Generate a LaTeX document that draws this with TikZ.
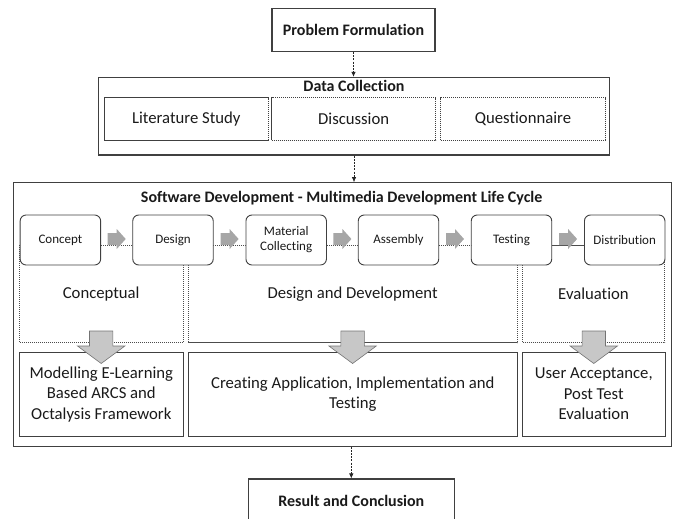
\documentclass[tikz,border=0pt]{standalone}
\usepackage{fontspec}
\setmainfont{Carlito}[Ligatures=NoCommon]
\usetikzlibrary{arrows.meta}
\definecolor{framegray}{HTML}{404040}
\definecolor{inkgray}{HTML}{1A1A1A}
\begin{document}
\begin{tikzpicture}[x=1pt,y=-1pt,
  every node/.style={text=inkgray,inner sep=0pt},
  headbox/.style={draw=framegray,line width=1.1pt,fill=white,font=\fontsize{16}{19}\selectfont\bfseries},
  frame/.style={draw=framegray,line width=1.1pt},
  title/.style={font=\fontsize{16}{19}\selectfont\bfseries},
  subbox/.style={draw=black!75,line width=0.8pt,dash pattern=on 1.2pt off 0.8pt,minimum height=42.3pt,font=\fontsize{16.7}{20.5}\selectfont},
  stage/.style={draw=framegray,line width=0.9pt,rounded corners=6pt,fill=white,minimum width=80.5pt,minimum height=50pt,align=center,font=\fontsize{13}{15}\selectfont},
  region/.style={draw=black!70,line width=0.8pt,dash pattern=on 1.2pt off 0.8pt},
  phase/.style={font=\fontsize{16.7}{20.5}\selectfont},
  outcome/.style={draw=framegray,line width=0.9pt,minimum height=83.7pt,align=center,font=\fontsize{16.7}{20.5}\selectfont},
  link/.style={draw=black!85,line width=0.7pt,dash pattern=on 2pt off 1.2pt,-{Latex[length=5pt,width=4.5pt]}},
  stepgo/.pic={\fill[black!35] (-9,-6) -- (0,-6) -- (0,-10) -- (9,0) -- (0,10) -- (0,6) -- (-9,6) -- cycle;},
  dropdown/.pic={\filldraw[fill=black!22,draw=black!55,line width=0.6pt] (-11.7,0) -- (11.7,0) -- (11.7,15) -- (23.7,15) -- (0,32.5) -- (-23.7,15) -- (-11.7,15) -- cycle;}]
\useasboundingbox (0,0) rectangle (673,519);
\node[headbox,minimum width=163pt,minimum height=43pt] (problem) at (353.5,30) {Problem Formulation};
\node[frame,minimum width=511pt,minimum height=77.7pt] (data) at (354,116.2) {};
\node[title] (datatitle) at (354,86) {Data Collection};
\node[subbox,minimum width=164pt] (literature) at (186.3,118.9) {Literature Study};
\node[subbox,minimum width=164pt] (discussion) at (353.7,118.9) {Discussion};
\node[subbox,minimum width=164.4pt] (questionnaire) at (523,118.9) {Questionnaire};
\node[frame,minimum width=657.7pt,minimum height=263.3pt] (sdlc) at (342.2,314.4) {};
\node[title] (sdlctitle) at (341.7,198) {Software Development - Multimedia Development Life Cycle};
\draw[region] (19.5,245) rectangle (183,342.7);
\draw[region] (188,245) rectangle (517.3,342.7);
\draw[region] (522.3,245) rectangle (664.7,342.7);
\node[stage] (concept) at (60.4,240) {Concept};
\node[stage] (design) at (173,240) {Design};
\node[stage] (material) at (286.2,240) {Material\\Collecting};
\node[stage] (assembly) at (398.5,240) {Assembly};
\node[stage] (testing) at (511.5,240) {Testing};
\node[stage] (distribution) at (624.7,240) {Distribution};
\pic at (116.7,239) {stepgo};
\pic at (229.6,239) {stepgo};
\pic at (342.4,239) {stepgo};
\pic at (455,239) {stepgo};
\pic at (568.1,239) {stepgo};
\node[phase] (conceptual) at (101.2,294) {Conceptual};
\node[phase] (development) at (352.6,294) {Design and Development};
\node[phase] (evaluation) at (593.5,294) {Evaluation};
\node[outcome,minimum width=164pt] (modelling) at (101.3,394.2) {Modelling E-Learning\\Based ARCS and\\Octalysis Framework};
\node[outcome,minimum width=329pt] (creating) at (352.8,394.2) {Creating Application, Implementation and\\Testing};
\node[outcome,minimum width=143pt] (acceptance) at (593.8,394.2) {User Acceptance,\\Post Test\\Evaluation};
\pic at (101.2,331) {dropdown};
\pic at (352.6,331) {dropdown};
\pic at (593.8,331) {dropdown};
\node[headbox,minimum width=206pt,minimum height=43pt] (result) at (351.3,500.5) {Result and Conclusion};
\draw[link] (problem.south) -- (problem.south |- data.north);
\draw[link] (data.south) -- (data.south |- sdlc.north);
\draw[link] (result.north |- sdlc.south) -- (result.north);
\end{tikzpicture}
\end{document}
